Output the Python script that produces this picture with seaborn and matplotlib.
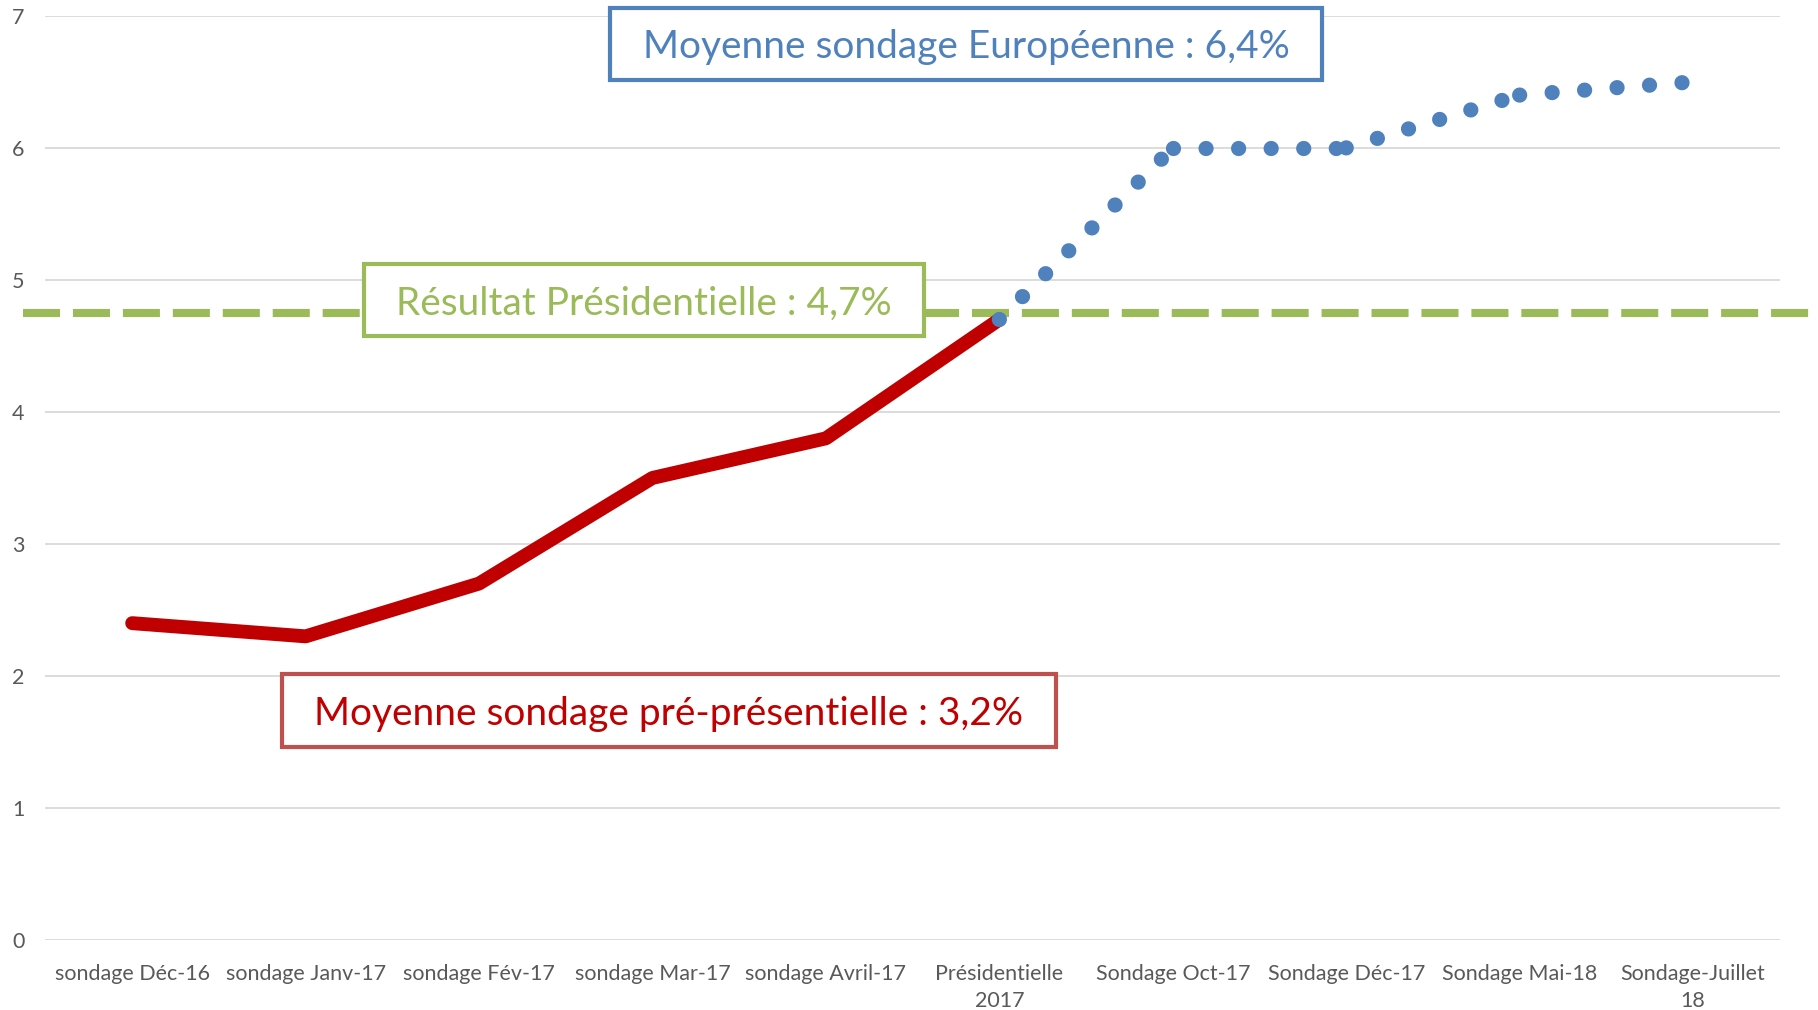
import numpy as np
import matplotlib
matplotlib.use("Agg")
import matplotlib.pyplot as plt
from matplotlib.patches import Rectangle
import seaborn as sns

# data
categories = ["sondage Déc-16", "sondage Janv-17", "sondage Fév-17", "sondage Mar-17",
              "sondage Avril-17", "Présidentielle\n2017", "Sondage Oct-17", "Sondage Déc-17",
              "Sondage Mai-18", "Sondage-Juillet\n18"]
pre_idx = [0, 1, 2, 3, 4, 5]
pre_vals = [2.4, 2.3, 2.7, 3.5, 3.8, 4.7]
euro_idx = [5, 6, 7, 8, 9]
euro_vals = [4.7, 6.0, 6.0, 6.4, 6.5]
resultat = 4.75
label_euro = "Moyenne sondage Européenne : 6,4%"
label_res = "Résultat Présidentielle : 4,7%"
label_pre = "Moyenne sondage pré-présentielle : 3,2%"

BLUE = "#4F81BD"
RED = "#C00000"
RED_BOX = "#C0504D"
GREEN = "#9BBB59"
GREY = "#595959"

sns.set_style("white")
plt.rcParams["font.family"] = ["Lato", "DejaVu Sans"]

fig = plt.figure(figsize=(18.18, 10.10), dpi=100)
ax = fig.add_axes([0.025, 0.0693, 0.954, 0.915])

# grid
for v in range(0, 8):
    ax.axhline(v, color="#D9D9D9", linewidth=1.3, zorder=0)

# green reference line (goes past the plot area)
ax.plot([-0.63, 9.72], [resultat, resultat], color=GREEN, linewidth=5.8,
        dashes=(4.6, 1.6), clip_on=False, zorder=2)

# red line
sns.lineplot(x=pre_idx, y=pre_vals, ax=ax, color=RED, linewidth=10,
             solid_capstyle="round", solid_joinstyle="round", sort=False, zorder=3)

# blue dotted line, pattern restarted at every segment
for i in range(len(euro_idx) - 1):
    sns.lineplot(x=euro_idx[i:i + 2], y=euro_vals[i:i + 2], ax=ax, color=BLUE,
                 linewidth=11, linestyle=(0, (0.001, 2.13)), dash_capstyle="round",
                 sort=False, zorder=4)

# text boxes
def boxed(x0, x1, y0, y1, text, tcolor, ecolor):
    ax.add_patch(Rectangle((x0, y0), x1 - x0, y1 - y0, facecolor="white",
                           edgecolor=ecolor, linewidth=3, clip_on=False, zorder=5))
    ax.text((x0 + x1) / 2, (y0 + y1) / 2 - 0.025, text, color=tcolor, fontsize=28,
            ha="center", va="center", zorder=6, clip_on=False)

boxed(2.755, 6.86, 6.515, 7.06, label_euro, BLUE, BLUE)
boxed(1.336, 4.565, 4.576, 5.12, label_res, GREEN, GREEN)
boxed(0.863, 5.326, 1.462, 2.015, label_pre, RED, RED_BOX)

ax.set_xlim(-0.5, 9.5)
ax.set_ylim(0, 7)
ax.set_xticks(range(len(categories)))
ax.set_xticklabels(categories, linespacing=1.45)
ax.set_yticks(range(0, 8))
ax.tick_params(axis="both", length=0, labelsize=15.5, labelcolor=GREY)
ax.tick_params(axis="x", pad=17)
ax.tick_params(axis="y", pad=15)
ax.set_xlabel("")
ax.set_ylabel("")
for s in ax.spines.values():
    s.set_visible(False)

fig.savefig("out.png", dpi=100)
